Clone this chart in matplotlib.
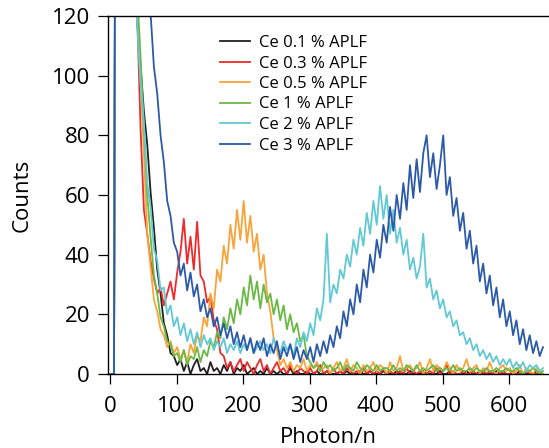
import numpy as np
import matplotlib.pyplot as plt

plt.rcParams['font.family'] = ['Open Sans', 'DejaVu Sans']

# channel axis (Photon/n), one value every 5 channels
channels = np.arange(1, 652, 5)

labels = ["Ce 0.1 % APLF", "Ce 0.3 % APLF", "Ce 0.5 % APLF",
          "Ce 1 % APLF", "Ce 2 % APLF", "Ce 3 % APLF"]
colors = ["#231f20", "#ee2a2a", "#f9a43a", "#6ab945", "#62c9d3", "#2c5aa9"]

ce_01 = [0, 0, 400, 330, 265, 215, 175, 145, 118, 103,
         88, 77, 61, 49, 35, 27, 17, 13, 7, 6,
         3, 5, 1, 4, 0, 3, 5, 1, 2, 0,
         4, 1, 2, 0, 3, 1, 4, 0, 2, 1,
         3, 0, 1, 2, 0, 1, 0, 2, 0, 1,
         0, 1, 0, 0, 2, 0, 1, 0, 0, 1,
         0, 0, 1, 0, 0, 1, 0, 0, 0, 1,
         0, 1, 0, 0, 0, 1, 0, 0, 1, 0,
         0, 0, 1, 0, 0, 0, 1, 0, 0, 0,
         1, 0, 0, 0, 1, 0, 0, 0, 0, 1,
         0, 0, 1, 0, 0, 0, 0, 1, 0, 0,
         0, 1, 0, 0, 0, 0, 1, 0, 0, 0,
         0, 0, 0, 1, 0, 0, 0, 0, 1, 0,
         0]

ce_03 = [0, 0, 420, 340, 270, 220, 180, 150, 120, 82,
         55, 47, 38, 32, 27, 29, 23, 27, 31, 25,
         34, 41, 52, 37, 46, 35, 51, 33, 31, 24,
         26, 18, 15, 7, 6, 2, 4, 1, 3, 5,
         1, 4, 2, 0, 3, 5, 1, 3, 0, 2,
         4, 1, 2, 0, 3, 1, 0, 2, 1, 0,
         2, 0, 1, 3, 0, 1, 0, 2, 0, 1,
         0, 2, 1, 0, 1, 0, 2, 0, 1, 0,
         1, 0, 2, 0, 1, 0, 0, 1, 0, 2,
         0, 1, 0, 1, 0, 0, 1, 0, 2, 0,
         1, 3, 0, 1, 0, 0, 1, 0, 0, 1,
         0, 0, 1, 0, 1, 0, 0, 0, 1, 0,
         0, 1, 0, 0, 0, 1, 0, 0, 0, 0,
         0]

ce_05 = [0, 0, 430, 345, 275, 222, 182, 151, 124, 99,
         74, 47, 36, 25, 21, 15, 13, 9, 11, 7,
         9, 5, 8, 4, 10, 7, 13, 11, 19, 16,
         27, 22, 35, 31, 43, 37, 50, 42, 55, 45,
         58, 44, 53, 41, 47, 35, 40, 27, 21, 12,
         8, 3, 5, 2, 4, 1, 3, 2, 5, 1,
         3, 2, 4, 1, 2, 3, 0, 2, 4, 1,
         2, 5, 1, 3, 2, 0, 3, 1, 2, 4,
         1, 3, 2, 0, 4, 1, 2, 6, 1, 2,
         3, 1, 2, 4, 0, 2, 5, 1, 3, 2,
         1, 4, 2, 0, 3, 1, 2, 5, 1, 2,
         3, 0, 2, 1, 4, 1, 0, 2, 3, 1,
         2, 0, 1, 3, 0, 2, 1, 0, 2, 1,
         0]

ce_1 = [0, 0, 440, 350, 280, 226, 186, 156, 128, 106,
        83, 60, 46, 33, 27, 19, 16, 11, 10, 6,
        7, 4, 8, 3, 6, 5, 9, 4, 8, 6,
        11, 9, 14, 12, 19, 15, 22, 17, 25, 20,
        29, 23, 33, 25, 31, 22, 30, 24, 27, 20,
        25, 18, 23, 15, 20, 14, 17, 11, 13, 6,
        4, 2, 3, 1, 4, 2, 3, 1, 2, 4,
        1, 3, 2, 1, 4, 2, 1, 3, 2, 1,
        3, 1, 2, 2, 1, 3, 1, 2, 1, 3,
        2, 1, 3, 1, 2, 1, 2, 3, 1, 2,
        1, 2, 1, 3, 1, 2, 1, 1, 2, 1,
        2, 1, 1, 2, 1, 1, 2, 1, 1, 2,
        1, 1, 2, 1, 0, 1, 1, 2, 1, 0,
        1]

ce_2 = [0, 0, 425, 338, 268, 218, 176, 146, 116, 97,
        84, 64, 56, 42, 38, 28, 29, 20, 23, 16,
        19, 13, 17, 11, 15, 10, 14, 9, 13, 10,
        12, 8, 11, 9, 12, 7, 10, 8, 11, 7,
        10, 8, 12, 7, 9, 11, 8, 10, 7, 12,
        9, 7, 11, 8, 10, 6, 12, 9, 14, 11,
        17, 13, 22, 18, 25, 47, 24, 30, 27, 35,
        32, 40, 36, 45, 40, 49, 43, 54, 47, 58,
        50, 63, 52, 60, 47, 55, 44, 49, 40, 45,
        35, 39, 32, 36, 47, 29, 32, 25, 28, 22,
        25, 19, 21, 16, 18, 13, 14, 10, 12, 8,
        10, 6, 8, 5, 7, 4, 6, 3, 5, 3,
        5, 2, 4, 2, 4, 1, 3, 2, 3, 1,
        2]

ce_3 = [0, 0, 500, 450, 380, 320, 270, 232, 200, 176,
        156, 138, 121, 103, 94, 80, 71, 58, 53, 44,
        41, 33, 37, 28, 34, 26, 30, 21, 25, 19,
        22, 16, 19, 13, 17, 12, 16, 10, 14, 9,
        13, 8, 12, 7, 11, 8, 12, 6, 10, 7,
        11, 5, 9, 6, 10, 5, 9, 4, 8, 5,
        9, 4, 10, 6, 11, 7, 13, 9, 16, 12,
        21, 16, 25, 20, 30, 24, 35, 29, 40, 34,
        45, 39, 50, 44, 56, 48, 60, 52, 64, 55,
        70, 59, 72, 61, 74, 80, 66, 74, 62, 70,
        80, 60, 66, 53, 59, 48, 54, 42, 48, 37,
        43, 31, 37, 27, 33, 23, 29, 19, 25, 16,
        21, 13, 18, 10, 15, 8, 13, 7, 11, 6,
        9]

series = [ce_01, ce_03, ce_05, ce_1, ce_2, ce_3]

fig = plt.figure(figsize=(5.49, 4.48), dpi=100)
ax = fig.add_axes([108 / 549, 1 - 374 / 448, 441 / 549, 358 / 448])

for values, color, label in zip(series, colors, labels):
    ax.plot(channels, values, color=color, lw=1.3, label=label)

ax.set_xlim(-3, 660)
ax.set_ylim(0, 120)
ax.set_xticks(range(0, 700, 100))
ax.set_yticks(range(0, 140, 20))
ax.spines['right'].set_visible(False)
for side in ['left', 'bottom', 'top']:
    ax.spines[side].set_linewidth(1.0)
ax.tick_params(direction='out', length=7, width=0.9, labelsize=16, pad=6)
ax.tick_params(axis='x', pad=9)
ax.set_xlabel('Photon/n', fontsize=16, labelpad=7)
ax.set_ylabel('Counts', fontsize=16, labelpad=14)

leg = ax.legend(loc='upper left', bbox_to_anchor=(220 / 549, 1 - 35 / 448),
                bbox_transform=fig.transFigure, frameon=False, fontsize=12,
                borderaxespad=0, borderpad=0, handlelength=1.8,
                handletextpad=0.55, labelspacing=0.27)

fig.savefig('out.png', dpi=100)
